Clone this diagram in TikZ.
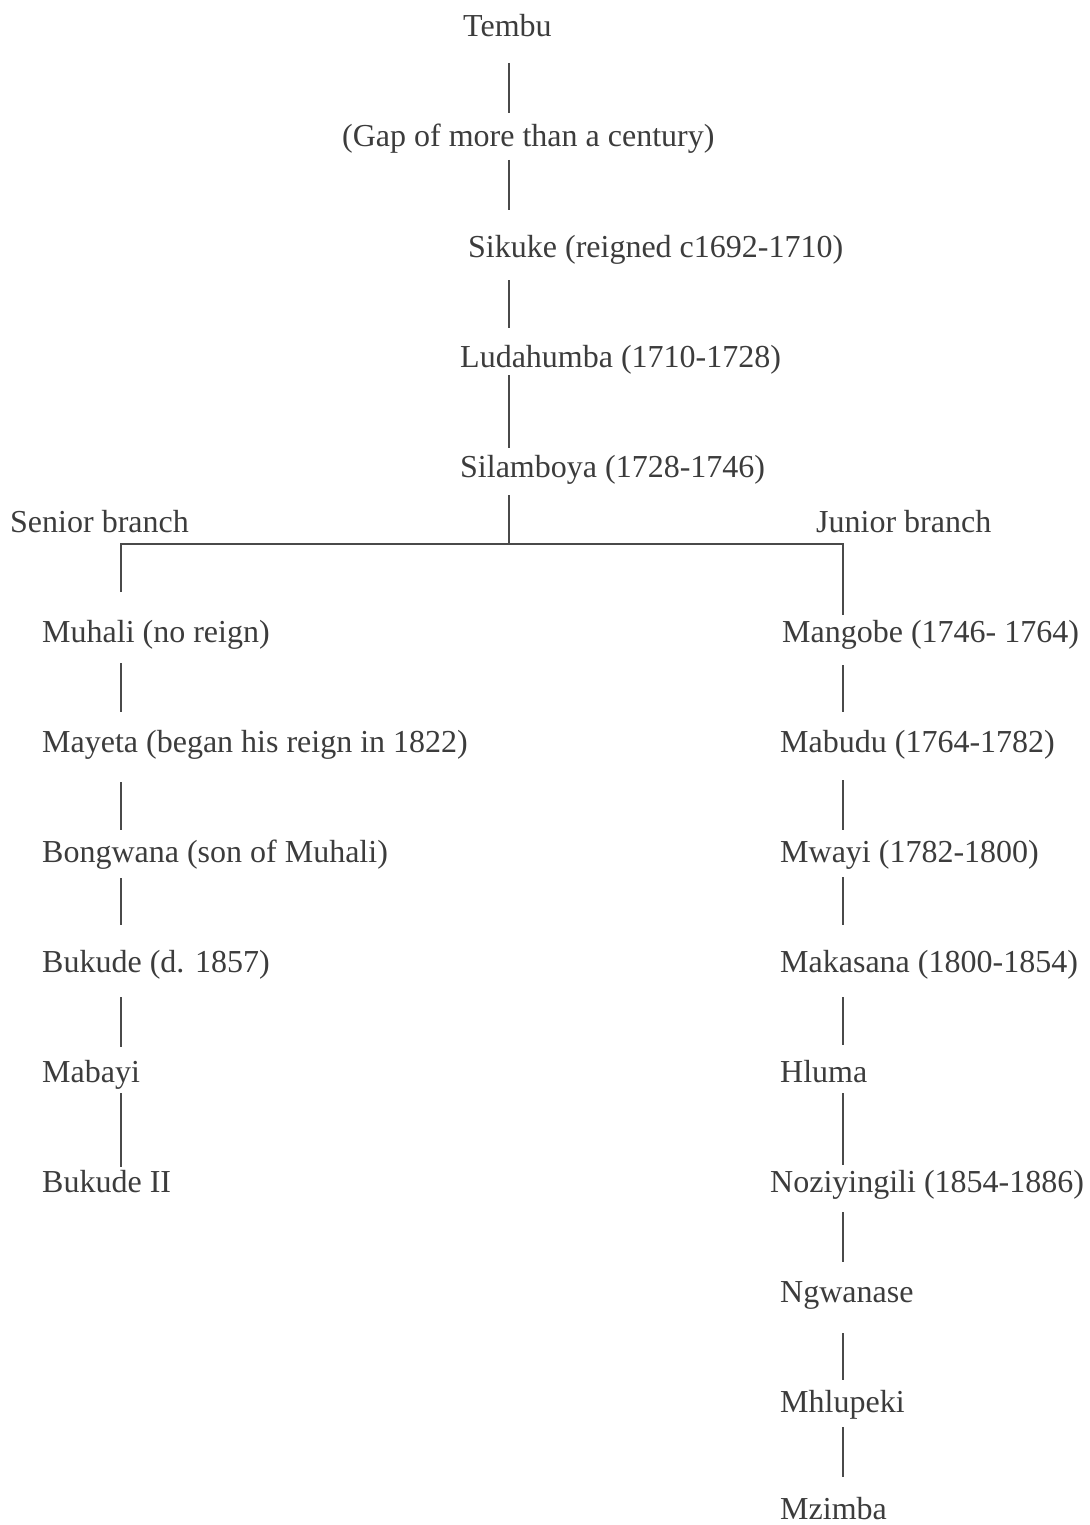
\documentclass[tikz,border=0pt]{standalone}
\usepackage{fontspec}
\setmainfont{Liberation Serif}
\definecolor{ink}{HTML}{3C3C3C}
\definecolor{rule}{HTML}{4A4A4A}
\begin{document}
\begin{tikzpicture}[x=1pt,y=-1pt,
  lbl/.style={anchor=base west,inner sep=0pt,text=ink,font=\fontsize{32}{38}\selectfont},
  conn/.style={draw=rule,line width=1.3pt}]
\useasboundingbox[fill=white] (0,0) rectangle (1089,1525);
\coordinate (spine) at (509,0);
\coordinate (lcol) at (121,0);
\coordinate (rcol) at (843,0);
% top chain
\node[lbl] (tembu) at (463,37) {Tembu};
\node[lbl] (gap) at (342,147) {(Gap of more than a century)};
\node[lbl] (sikuke) at (468,257) {Sikuke (reigned c1692-1710)};
\node[lbl] (ludahumba) at (460,367) {Ludahumba (1710-1728)};
\node[lbl] (silamboya) at (460,477) {Silamboya (1728-1746)};
\node[lbl] (senior) at (10,532) {Senior branch};
\node[lbl] (junior) at (816,532) {Junior branch};
% left column
\node[lbl] (muhali) at (42,642) {Muhali (no reign)};
\node[lbl] (mayeta) at (42,752) {Mayeta (began his reign in 1822)};
\node[lbl] (bongwana) at (42,862) {Bongwana (son of Muhali)};
\node[lbl] (bukude) at (42,972) {Bukude (d. 1857)};
\node[lbl] (mabayi) at (42,1082) {Mabayi};
\node[lbl] (bukudeii) at (42,1192) {Bukude II};
% right column
\node[lbl] (mangobe) at (782,642) {Mangobe (1746- 1764)};
\node[lbl] (mabudu) at (780,752) {Mabudu (1764-1782)};
\node[lbl] (mwayi) at (780,862) {Mwayi (1782-1800)};
\node[lbl] (makasana) at (780,972) {Makasana (1800-1854)};
\node[lbl] (hluma) at (780,1082) {Hluma};
\node[lbl] (noziyingili) at (770,1192) {Noziyingili (1854-1886)};
\node[lbl] (ngwanase) at (780,1302) {Ngwanase};
\node[lbl] (mhlupeki) at (780,1412) {Mhlupeki};
\node[lbl] (mzimba) at (780,1519) {Mzimba};
% top connectors
\draw[conn] (tembu.base -| spine) ++(0,26) -- ++(0,50);
\draw[conn] (gap.base -| spine) ++(0,13) -- ++(0,50);
\draw[conn] (sikuke.base -| spine) ++(0,23) -- ++(0,48);
\draw[conn] (ludahumba.base -| spine) ++(0,8) -- ++(0,73);
% fork
\coordinate (fork) at (spine |- 0,544);
\coordinate (barL) at (lcol |- fork);
\coordinate (barR) at (rcol |- fork);
\draw[conn] (silamboya.base -| spine) ++(0,18) -- (fork);
\draw[conn] (muhali.base -| lcol) ++(0,-50) -- (barL) -- (barR) -- ([yshift=27pt]mangobe.base -| rcol);
% left connectors
\draw[conn] (muhali.base -| lcol) ++(0,21) -- ++(0,49);
\draw[conn] (mayeta.base -| lcol) ++(0,30) -- ++(0,48);
\draw[conn] (bongwana.base -| lcol) ++(0,16) -- ++(0,47);
\draw[conn] (bukude.base -| lcol) ++(0,25) -- ++(0,50);
\draw[conn] (mabayi.base -| lcol) ++(0,11) -- ++(0,74);
% right connectors
\draw[conn] (mangobe.base -| rcol) ++(0,23) -- ++(0,47);
\draw[conn] (mabudu.base -| rcol) ++(0,28) -- ++(0,50);
\draw[conn] (mwayi.base -| rcol) ++(0,15) -- ++(0,48);
\draw[conn] (makasana.base -| rcol) ++(0,25) -- ++(0,48);
\draw[conn] (hluma.base -| rcol) ++(0,11) -- ++(0,72);
\draw[conn] (noziyingili.base -| rcol) ++(0,20) -- ++(0,50);
\draw[conn] (ngwanase.base -| rcol) ++(0,31) -- ++(0,47);
\draw[conn] (mhlupeki.base -| rcol) ++(0,15) -- ++(0,50);
\end{tikzpicture}
\end{document}
